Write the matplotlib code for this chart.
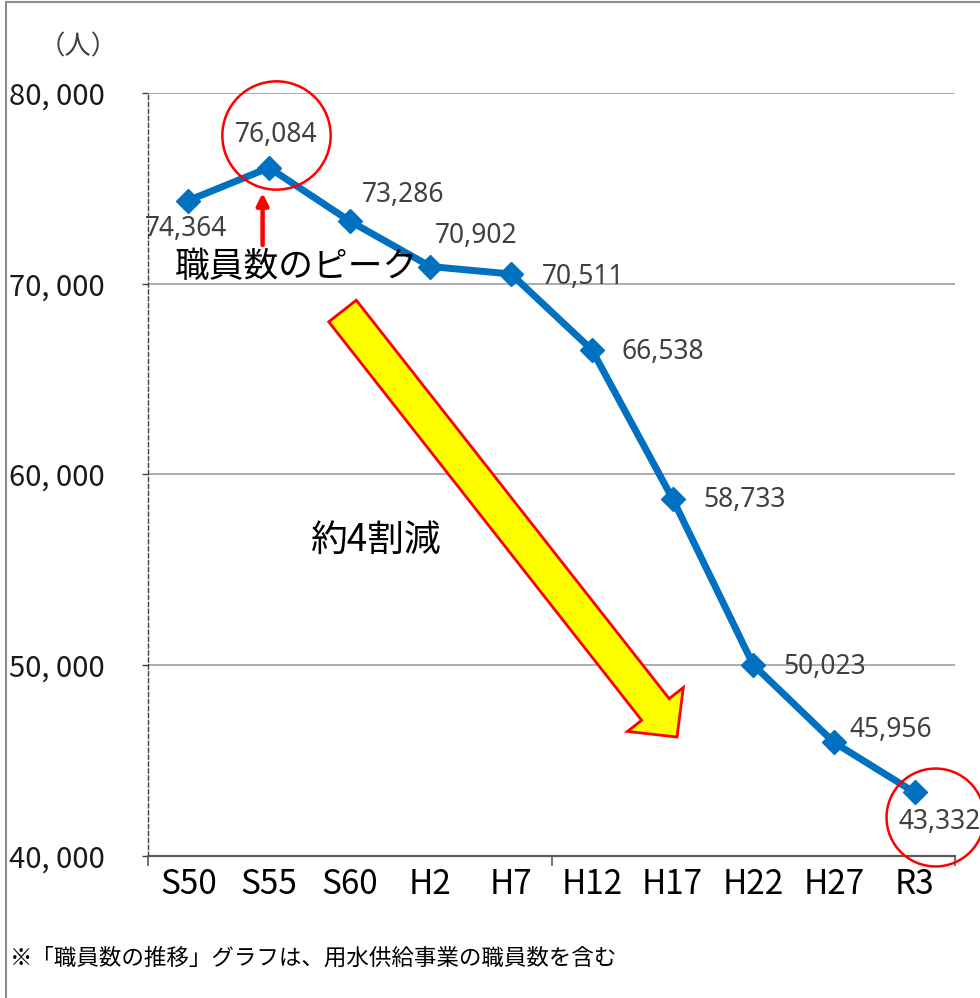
import matplotlib
matplotlib.use("Agg")
import matplotlib.pyplot as plt
from matplotlib.patches import FancyArrow
from matplotlib.lines import Line2D
from matplotlib.ticker import FixedLocator, FuncFormatter
from matplotlib.transforms import IdentityTransform

# staff numbers per survey year
years = ["S50", "S55", "S60", "H2", "H7", "H12", "H17", "H22", "H27", "R3"]
staff = [74364, 76084, 73286, 70902, 70511, 66538, 58733, 50023, 45956, 43332]
y_ticks = [40000, 50000, 60000, 70000, 80000]

# where each value label sits relative to its point (pixels, alignment)
label_pos = [(-2, -28, "center"), (7, 33, "center"), (12, 26, "left"),
             (4, 31, "left"), (31, -3, "left"), (30, -2, "left"),
             (31, -1, "left"), (30, -2, "left"), (16, 12, "left"),
             (25, -30, "center")]

JP = ["Noto Sans CJK JP", "DejaVu Sans"]
BLUE = "#0070C0"

W, H = 980, 998
fig = plt.figure(figsize=(W / 100, H / 100), dpi=100)
ax = fig.add_axes([148 / W, 1 - 856 / H, (955 - 148) / W, (856 - 93) / H])

x = list(range(len(years)))
ax.plot(x, staff, color=BLUE, lw=5, marker="D", ms=12, mfc=BLUE, mec=BLUE,
        zorder=4, solid_joinstyle="miter")

for xi, v, (dx, dy, ha) in zip(x, staff, label_pos):
    ax.annotate(f"{v:,}", (xi, v), xytext=(dx, dy), textcoords="offset pixels",
                ha=ha, va="center", fontsize=19, color="#404040",
                family=["Noto Sans", "DejaVu Sans"], zorder=6,
                annotation_clip=False)

ax.set_xlim(-0.5, len(years) - 0.5)
ax.set_ylim(40000, 80000)
ax.set_xticks(x)
ax.set_xticklabels(years, family=JP, fontsize=24)
ax.xaxis.set_minor_locator(FixedLocator([-0.5, 4.5, len(years) - 0.5]))
ax.tick_params(axis="x", which="major", length=0, pad=8)
ax.tick_params(axis="x", which="minor", length=7, width=1.2, color="#595959")
ax.set_yticks(y_ticks)
ax.yaxis.set_major_formatter(FuncFormatter(lambda v, p: f"{int(v):,}".replace(",", ", ")))
for lbl in ax.get_yticklabels():
    lbl.set_family(JP)
ax.tick_params(axis="y", length=4, width=1, color="#404040", labelsize=21, pad=27,
               labelcolor="#1a1a1a")

ax.grid(axis="y", color="#A6A6A6", lw=1.3)
ax.set_axisbelow(True)
for s in ("top", "right"):
    ax.spines[s].set_visible(False)
ax.spines["bottom"].set_color("#595959")
ax.spines["bottom"].set_linewidth(1.6)
ax.spines["left"].set_color("#404040")
ax.spines["left"].set_linewidth(1)
ax.spines["left"].set_linestyle((0, (3, 2)))

# peak highlight
ax.plot([1.084], [77798], "o", ms=78, mfc="none", mec="red", mew=1.8,
        clip_on=False, zorder=7)
ax.annotate("", xy=(0.92, 74760), xytext=(0.92, 72030),
            arrowprops=dict(arrowstyle="-|>,head_width=0.35,head_length=0.7",
                            color="red", lw=3.2, shrinkA=0, shrinkB=0))
ax.text(-0.17, 70830, "職員数のピーク", family=JP, fontsize=25, color="black",
        va="center", ha="left", zorder=8)

# latest value highlight
ax.plot([9.25], [42045], "o", ms=70.5, mfc="none", mec="red", mew=1.8,
        clip_on=False, zorder=7)

# big downward arrow
big = FancyArrow(342.5, H - 311, 334.5, -426, width=35, head_width=71,
                 head_length=35, length_includes_head=True,
                 facecolor="#FFFF00", edgecolor="red", lw=2,
                 transform=IdentityTransform(), zorder=3)
fig.add_artist(big)
fig.text(310 / W, 1 - 540 / H, "約4割減", family=JP, fontsize=26.5, color="black",
         va="center", ha="left")

fig.text(78 / W, 1 - 47 / H, "（人）", family=JP, fontsize=19, color="#404040",
         va="center", ha="center")
fig.text(10 / W, 1 - 958 / H, "※「職員数の推移」グラフは、用水供給事業の職員数を含む",
         family=JP, fontsize=16.2, color="black", va="center", ha="left")

# frame lines along top and left edges
fig.add_artist(Line2D([6 / W, 6 / W], [0, 1 - 2 / H], color="#8C8C8C", lw=1.5,
                      transform=fig.transFigure))
fig.add_artist(Line2D([6 / W, 1], [1 - 2 / H, 1 - 2 / H], color="#8C8C8C", lw=1.5,
                      transform=fig.transFigure))

fig.savefig("out.png", dpi=100)
